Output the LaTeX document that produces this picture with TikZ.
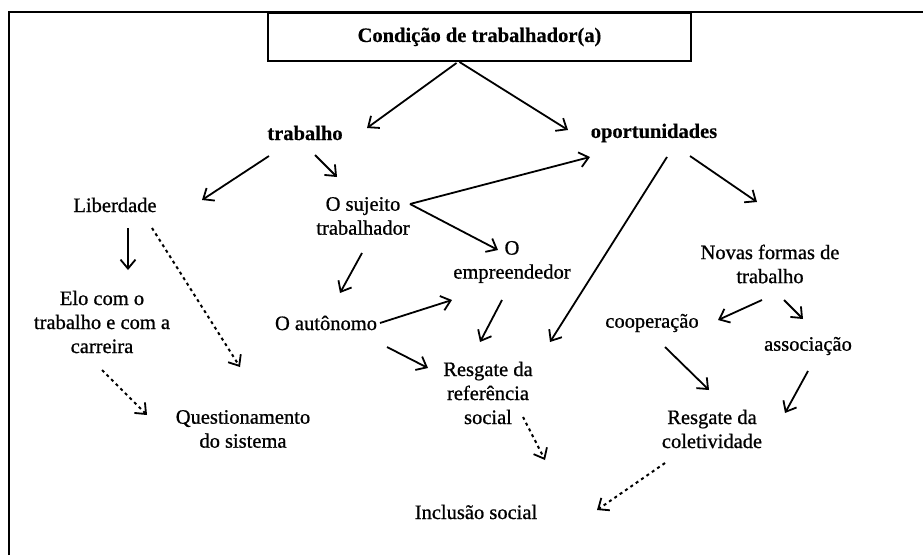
\documentclass[tikz,border=0pt]{standalone}
\usepackage{fontspec}
\setmainfont{Liberation Serif}
\newfontfamily\heavyrm[FakeBold=0.8]{Liberation Serif}
\newfontfamily\heavybf[FakeBold=0.4]{Liberation Serif Bold}
\usetikzlibrary{arrows.meta}
\begin{document}
\begin{tikzpicture}[x=1pt,y=-1pt,
  lbl/.style={inner sep=0pt, align=center, font=\heavyrm\fontsize{20.5}{24}\selectfont},
  blbl/.style={inner sep=0pt, align=center, font=\heavybf\fontsize{20.5}{24}\selectfont},
  frame/.style={line width=2.2pt},
  arr/.style={line width=1.8pt, -{Straight Barb[length=9pt,width=15pt,line width=1.8pt]}},
  darr/.style={line width=2pt, dash pattern=on 3pt off 3.5pt, -{Straight Barb[length=9pt,width=15pt,line width=1.8pt]}}]
\useasboundingbox (0,0) rectangle (923,555);
\fill[white] (0,0) rectangle (923,555);
% outer frame (top and left visible)
\coordinate (fbl) at (9,555);
\coordinate (ftl) at (9,12);
\coordinate (ftr) at (923,12);
\draw[frame] (fbl) -- (ftl) -- (ftr);
% nodes
\node[blbl, draw, line width=2.2pt, minimum width=423pt, minimum height=48pt] (T) at (479.5,37) {Condição de trabalhador(a)};
\node[blbl] (trab) at (305,133) {trabalho};
\node[blbl] (oport) at (654,133) {oportunidades};
\node[lbl] (lib) at (115,205) {Liberdade};
\node[lbl] (suj) at (363,216) {O sujeito\\trabalhador};
\node[lbl] (emp) at (512,262) {O\\empreendedor};
\node[lbl] (novas) at (770,264) {Novas formas de\\trabalho};
\node[lbl] (elo) at (102,322) {Elo com o\\trabalho e com a\\carreira};
\node[lbl] (auto) at (326,323) {O autônomo};
\node[lbl] (coop) at (652,323) {cooperação};
\node[lbl] (assoc) at (808,346) {associação};
\node[lbl] (resref) at (488,393) {Resgate da\\referência\\social};
\node[lbl] (quest) at (243,429) {Questionamento\\do sistema};
\node[lbl] (rescol) at (712,429) {Resgate da\\coletividade};
\node[lbl] (incl) at (476,512) {Inclusão social};
% connectors
\draw[arr] ([shift={(-23,26)}]T.center) -- ([shift={(62,-5)}]trab.center);
\draw[arr] ([shift={(-20,25)}]T.center) -- ([shift={(-86,-3)}]oport.center);
\draw[arr] ([shift={(-36,23)}]trab.center) -- ([shift={(87,-5)}]lib.center);
\draw[arr] ([shift={(10,22)}]trab.center) -- ([shift={(-26,-39)}]suj.center);
\draw[arr] ([shift={(47,-12)}]suj.center) -- ([shift={(-64,24)}]oport.center);
\draw[arr] ([shift={(47,-12)}]suj.center) -- ([shift={(-14,-12)}]emp.center);
\draw[arr] ([shift={(13,24)}]oport.center) -- ([shift={(62,-51)}]resref.center);
\draw[arr] ([shift={(36,23)}]oport.center) -- ([shift={(-13,-62)}]novas.center);
\draw[arr] ([shift={(13,23)}]lib.center) -- ([shift={(26,-52)}]elo.center);
\draw[darr] ([shift={(37,23)}]lib.center) -- ([shift={(-3,-62)}]quest.center);
\draw[arr] ([shift={(-1,37)}]suj.center) -- ([shift={(14,-30)}]auto.center);
\draw[arr] ([shift={(54,0)}]auto.center) -- ([shift={(-60,38)}]emp.center);
\draw[arr] ([shift={(61,24)}]auto.center) -- ([shift={(-60,-25)}]resref.center);
\draw[arr] ([shift={(-10,38)}]emp.center) -- ([shift={(-8,-51)}]resref.center);
\draw[darr] ([shift={(0,48)}]elo.center) -- ([shift={(-96,-14)}]quest.center);
\draw[arr] ([shift={(-8,36)}]novas.center) -- ([shift={(66,-3)}]coop.center);
\draw[arr] ([shift={(14,36)}]novas.center) -- ([shift={(-5,-27)}]assoc.center);
\draw[arr] ([shift={(13,24)}]coop.center) -- ([shift={(-3,-39)}]rescol.center);
\draw[arr] ([shift={(0,25)}]assoc.center) -- ([shift={(73,-16)}]rescol.center);
\draw[darr] ([shift={(35,24)}]resref.center) -- ([shift={(69,-52)}]incl.center);
\draw[darr] ([shift={(-47,34)}]rescol.center) -- ([shift={(121,-2)}]incl.center);
\end{tikzpicture}
\end{document}
